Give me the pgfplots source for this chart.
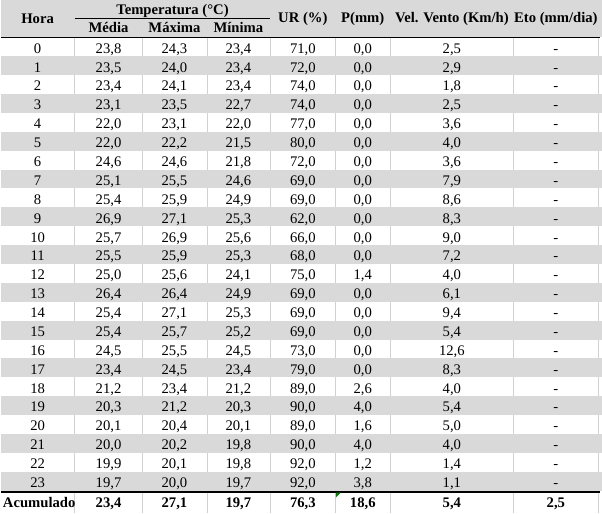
\documentclass[border=0pt]{standalone}
\usepackage{fontspec}
\setmainfont{Liberation Serif}
\usepackage{pgfplots}
\usepackage{pgfplotstable}
\pgfplotsset{compat=1.18}
\definecolor{rowgray}{RGB}{217,217,217}
\definecolor{vline}{RGB}{210,210,210}
\definecolor{xlgreen}{RGB}{0,128,0}

\pgfplotstableread{
h med max min ur p vel
0 23.8 24.3 23.4 71.0 0.0 2.5
1 23.5 24.0 23.4 72.0 0.0 2.9
2 23.4 24.1 23.4 74.0 0.0 1.8
3 23.1 23.5 22.7 74.0 0.0 2.5
4 22.0 23.1 22.0 77.0 0.0 3.6
5 22.0 22.2 21.5 80.0 0.0 4.0
6 24.6 24.6 21.8 72.0 0.0 3.6
7 25.1 25.5 24.6 69.0 0.0 7.9
8 25.4 25.9 24.9 69.0 0.0 8.6
9 26.9 27.1 25.3 62.0 0.0 8.3
10 25.7 26.9 25.6 66.0 0.0 9.0
11 25.5 25.9 25.3 68.0 0.0 7.2
12 25.0 25.6 24.1 75.0 1.4 4.0
13 26.4 26.4 24.9 69.0 0.0 6.1
14 25.4 27.1 25.3 69.0 0.0 9.4
15 25.4 25.7 25.2 69.0 0.0 5.4
16 24.5 25.5 24.5 73.0 0.0 12.6
17 23.4 24.5 23.4 79.0 0.0 8.3
18 21.2 23.4 21.2 89.0 2.6 4.0
19 20.3 21.2 20.3 90.0 4.0 5.4
20 20.1 20.4 20.1 89.0 1.6 5.0
21 20.0 20.2 19.8 90.0 4.0 4.0
22 19.9 20.1 19.8 92.0 1.2 1.4
23 19.7 20.0 19.7 92.0 3.8 1.1
}\dados

\newcommand{\cellfont}{\fontsize{11}{13}\selectfont}
\pgfplotsset{
  cellnum/.style={draw=none, mark=none, point meta=explicit,
    nodes near coords={\pgfmathprintnumber[fixed,fixed zerofill,precision=1,use comma]{\pgfplotspointmeta}}},
  cellint/.style={draw=none, mark=none, point meta=explicit,
    nodes near coords={\pgfmathprintnumber[fixed,precision=0]{\pgfplotspointmeta}}},
}

\begin{document}
\begin{tikzpicture}
\begin{axis}[
  scale only axis, width=451.5pt, height=385.5pt,
  xmin=0, xmax=602, ymin=0, ymax=514, y dir=reverse,
  hide axis, clip=false,
  /pgf/number format/assume math mode=true,
  every node near coord/.append style={anchor=base, inner sep=0pt, font=\cellfont, text=black},
]
% background
\fill[white] (axis cs:0,0) rectangle (axis cs:602,514);
% header and stripes
\fill[rowgray] (axis cs:0,0) rectangle (axis cs:602,37.5);
\pgfplotsinvokeforeach{1,3,...,23}{
  \fill[rowgray] (axis cs:0,{37.5+18.9*#1}) rectangle (axis cs:602,{37.5+18.9*(#1+1)});
}
% vertical grid lines on white rows only (dashed with row period)
\pgfplotsinvokeforeach{74,141.7,206.7,270,335,390,513.3,598.3}{
  \draw[vline, line width=0.75pt, dash pattern=on 14.175pt off 14.175pt] (axis cs:#1,37.5) -- (axis cs:#1,492.6);
  \draw[vline, line width=0.75pt] (axis cs:#1,492.6) -- (axis cs:#1,514);
}
% rules
\draw[black, line width=1pt] (axis cs:0,37.5) -- (axis cs:600,37.5);
\draw[black, line width=1pt] (axis cs:0,492.6) -- (axis cs:600,492.6);
\draw[black, line width=0.75pt] (axis cs:74,18.5) -- (axis cs:270,18.5);
\fill[xlgreen] (axis cs:335.6,493.2) -- (axis cs:340.5,493.2) -- (axis cs:335.6,498) -- cycle;

% header texts
\begin{scope}[every node/.style={anchor=base, inner sep=0pt, font=\cellfont\bfseries}]
\node at (axis cs:37,23.3) {Hora};
\node at (axis cs:172,15) {Temperatura (°C)};
\node at (axis cs:108,33) {Média};
\node at (axis cs:174,33) {Máxima};
\node at (axis cs:238,33) {Mínima};
\node at (axis cs:302.5,23) {UR (\%)};
\node at (axis cs:362.5,23) {P(mm)};
\node at (axis cs:451.7,23) {Vel. Vento (Km/h)};
\node at (axis cs:555.8,23) {Eto (mm/dia)};
\node[anchor=base west] at (axis cs:2,508.3) {Acumulado};
\end{scope}

% data columns
\addplot[cellint] table[x expr=37, y expr=53.3+18.9*\thisrow{h}, meta=h] {\dados};
\addplot[cellnum] table[x expr=108, y expr=53.3+18.9*\thisrow{h}, meta=med] {\dados};
\addplot[cellnum] table[x expr=174, y expr=53.3+18.9*\thisrow{h}, meta=max] {\dados};
\addplot[cellnum] table[x expr=238, y expr=53.3+18.9*\thisrow{h}, meta=min] {\dados};
\addplot[cellnum] table[x expr=302.5, y expr=53.3+18.9*\thisrow{h}, meta=ur] {\dados};
\addplot[cellnum] table[x expr=362.5, y expr=53.3+18.9*\thisrow{h}, meta=p] {\dados};
\addplot[cellnum] table[x expr=451.7, y expr=53.3+18.9*\thisrow{h}, meta=vel] {\dados};
\addplot[draw=none, mark=none, nodes near coords={-}] table[x expr=555.8, y expr=53.3+18.9*\thisrow{h}] {\dados};

% totals row
\addplot[cellnum, every node near coord/.append style={font=\cellfont\bfseries}] coordinates {
  (108,508.3) [23.4] (174,508.3) [27.1] (238,508.3) [19.7] (302.5,508.3) [76.3]
  (362.5,508.3) [18.6] (451.7,508.3) [5.4] (555.8,508.3) [2.5]
};
\end{axis}
\end{tikzpicture}
\end{document}
